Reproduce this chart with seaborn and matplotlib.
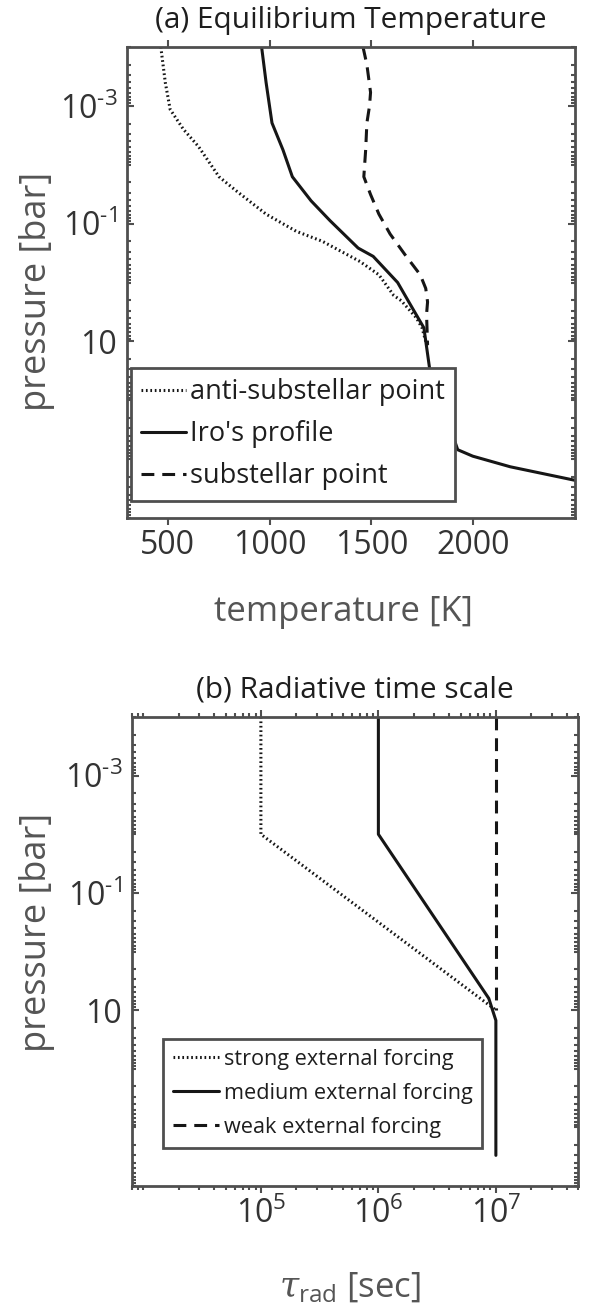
import numpy as np
import pandas as pd
import matplotlib
matplotlib.use("Agg")
import matplotlib.pyplot as plt
import seaborn as sns
from matplotlib.ticker import LogLocator, NullFormatter, FixedLocator

# ---------------- data ----------------
# (a) equilibrium temperature profiles: temperature [K] vs pressure [bar]
anti_T = [466, 488, 512, 577, 651, 752, 835, 983, 1131, 1260, 1444, 1537,
          1610, 1647, 1721, 1749, 1767, 1776]
anti_p = [1e-4, 4.0e-4, 1.15e-3, 2.5e-3, 4.9e-3, 1.6e-2, 2.75e-2, 6.9e-2,
          0.135, 0.2, 0.44, 0.74, 1.66, 2.04, 3.98, 5.9, 10, 12.3]

iro_T = [961, 983, 1012, 1066, 1112, 1204, 1297, 1435, 1509, 1629, 1684,
         1758, 1786, 1924, 1998, 2182, 2500]
iro_p = [1e-4, 4.0e-4, 1.95e-3, 5.6e-3, 1.6e-2, 4.1e-2, 8.9e-2, 0.26, 0.36,
         1.0, 2.14, 5.9, 28.8, 692, 891, 1349, 2291]

sub_T = [1459, 1478, 1496, 1491, 1478, 1472, 1463, 1496, 1537, 1592, 1666,
         1740, 1767, 1776, 1771, 1776]
sub_p = [1e-4, 2.0e-4, 5.9e-4, 1e-3, 1.95e-3, 5.6e-3, 1.6e-2, 3.2e-2, 6.9e-2,
         0.15, 0.34, 0.74, 1.26, 2.14, 3.47, 11.5]

# (b) radiative time scale [sec] vs pressure [bar]
strong_tau = [1e5, 1e5, 1e7]
strong_p = [1e-4, 1e-2, 10]
medium_tau = [1e6, 1e6, 8.7e6, 1e7, 1e7]
medium_p = [1e-4, 1e-2, 6.3, 15, 3e3]
weak_tau = [1e7, 1e7]
weak_p = [1e-4, 10]

labels_a = ["anti-substellar point", "Iro's profile", "substellar point"]
labels_b = ["strong external forcing", "medium external forcing", "weak external forcing"]

temp_ticks = [500, 1000, 1500, 2000]
p_ticks = [1e-3, 1e-1, 10]
p_ticklabels = [r"$\mathregular{10^{\text{-}3}}$", r"$\mathregular{10^{\text{-}1}}$", "10"]
tau_ticks = [1e5, 1e6, 1e7]
tau_ticklabels = [r"$\mathregular{10^{5}}$", r"$\mathregular{10^{6}}$", r"$\mathregular{10^{7}}$"]

# ---------------- style ----------------
sns.set_theme(style="white")
plt.rcParams["font.family"] = ["Open Sans", "DejaVu Sans"]
plt.rcParams["mathtext.fontset"] = "custom"
plt.rcParams["mathtext.rm"] = "Open Sans"
plt.rcParams["mathtext.it"] = "DejaVu Serif:italic"

W, H = 593, 1308
fig = plt.figure(figsize=(W / 100, H / 100), dpi=100)

def axes_px(left, top, right, bottom):
    return fig.add_axes([left / W, 1 - bottom / H, (right - left) / W, (bottom - top) / H])

ax1 = axes_px(127, 47, 575, 518)
ax2 = axes_px(132, 717, 578, 1186)

LINE = "#161616"
SPINE = "#4f4f4f"
LW = 2.2
DOT = (0, (0.55, 0.9))
DASH = (0, (4.2, 2.6))

for ax in (ax1, ax2):
    ax.set_yscale("log")

ax2.set_xscale("log")

# ---------------- panel (a) ----------------
sns.lineplot(x=anti_T, y=anti_p, sort=False, estimator=None, ax=ax1,
             color=LINE, lw=LW, linestyle=DOT, label=labels_a[0])
sns.lineplot(x=iro_T, y=iro_p, sort=False, estimator=None, ax=ax1,
             color=LINE, lw=LW, linestyle="-", label=labels_a[1])
sns.lineplot(x=sub_T, y=sub_p, sort=False, estimator=None, ax=ax1,
             color=LINE, lw=LW, linestyle=DASH, label=labels_a[2])

ax1.set_xlim(300, 2500)
ax1.set_ylim(1e4, 1e-4)

# ---------------- panel (b) ----------------
sns.lineplot(x=strong_tau, y=strong_p, sort=False, estimator=None, ax=ax2,
             color=LINE, lw=LW, linestyle=DOT, label=labels_b[0])
sns.lineplot(x=weak_tau, y=weak_p, sort=False, estimator=None, ax=ax2,
             color=LINE, lw=LW, linestyle=DASH, label=labels_b[2])
sns.lineplot(x=medium_tau, y=medium_p, sort=False, estimator=None, ax=ax2,
             color=LINE, lw=LW, linestyle="-", label=labels_b[1])

ax2.set_xlim(8e3, 5e7)
ax2.set_ylim(1e4, 1e-4)

# ---------------- axes decoration ----------------
TICKCOL = "#333333"
LABCOL = "#555555"

for ax in (ax1, ax2):
    for s in ax.spines.values():
        s.set_visible(True)
        s.set_color(SPINE)
        s.set_linewidth(2.0)
    ax.set_yticks(p_ticks)
    ax.set_yticklabels(p_ticklabels)
    ax.yaxis.set_minor_locator(LogLocator(base=10, subs=np.arange(1, 10), numticks=100))
    ax.yaxis.set_minor_formatter(NullFormatter())
    ax.tick_params(axis="y", which="both", direction="in", left=True, right=True,
                   color=SPINE, width=1.5, labelsize=23, labelcolor=TICKCOL, pad=7)
    ax.tick_params(axis="y", which="major", length=5)
    ax.tick_params(axis="y", which="minor", length=3)
    ax.tick_params(axis="x", which="both", direction="out", top=True, bottom=True,
                   color=SPINE, width=1.5, labelsize=23, labelcolor=TICKCOL, pad=3)
    ax.tick_params(axis="x", which="major", length=5)
    ax.tick_params(axis="x", which="minor", length=3)
    ax.grid(False)

ax1.set_xticks(temp_ticks)
ax1.set_xticklabels([str(t) for t in temp_ticks])
ax1.xaxis.set_minor_locator(FixedLocator([]))

ax2.set_xticks(tau_ticks)
ax2.set_xticklabels(tau_ticklabels)
ax2.xaxis.set_minor_locator(LogLocator(base=10, subs=np.arange(1, 10), numticks=100))
ax2.xaxis.set_minor_formatter(NullFormatter())

# titles and axis labels
ax1.set_title("(a) Equilibrium Temperature", fontsize=21.5, color="#1e1e1e", pad=14)
ax2.set_title("(b) Radiative time scale", fontsize=21.5, color="#1e1e1e", pad=14)

ax1.set_xlabel("temperature [K]", fontsize=25, color=LABCOL)
ax1.xaxis.set_label_coords(0.483, -0.20)
ax1.xaxis.label.set_va("center")
ax2.set_xlabel(r"$\tau_{\mathrm{rad}}$ [sec]", fontsize=25, color=LABCOL)
ax2.xaxis.set_label_coords(0.49, -0.218)
ax2.xaxis.label.set_va("center")

for ax in (ax1, ax2):
    ax.set_ylabel("pressure [bar]", fontsize=26, color=LABCOL)
    ax.yaxis.label.set_va("center")
ax1.yaxis.set_label_coords(-0.20, 0.48)
ax2.yaxis.set_label_coords(-0.213, 0.54)

# legends
def style_legend(leg):
    fr = leg.get_frame()
    fr.set_edgecolor(SPINE)
    fr.set_linewidth(2.0)
    fr.set_facecolor("white")
    fr.set_alpha(1)
    for t in leg.get_texts():
        t.set_color("#1e1e1e")

h, l = ax1.get_legend_handles_labels()
leg1 = ax1.legend(h, l, loc="upper left", bbox_to_anchor=(0.009, 0.3185),
                  borderaxespad=0, fancybox=False, fontsize=19.5,
                  handlelength=1.65, handletextpad=0.15, labelspacing=0.52,
                  borderpad=0.38, framealpha=1)
style_legend(leg1)

h, l = ax2.get_legend_handles_labels()
order = [0, 2, 1]
leg2 = ax2.legend([h[i] for i in order], [l[i] for i in order], loc="upper left",
                  bbox_to_anchor=(0.0695, 0.3134), borderaxespad=0, fancybox=False,
                  fontsize=15.6, handlelength=2.15, handletextpad=0.2,
                  labelspacing=0.6, borderpad=0.45, framealpha=1)
style_legend(leg2)

fig.savefig("out.png", dpi=100)
